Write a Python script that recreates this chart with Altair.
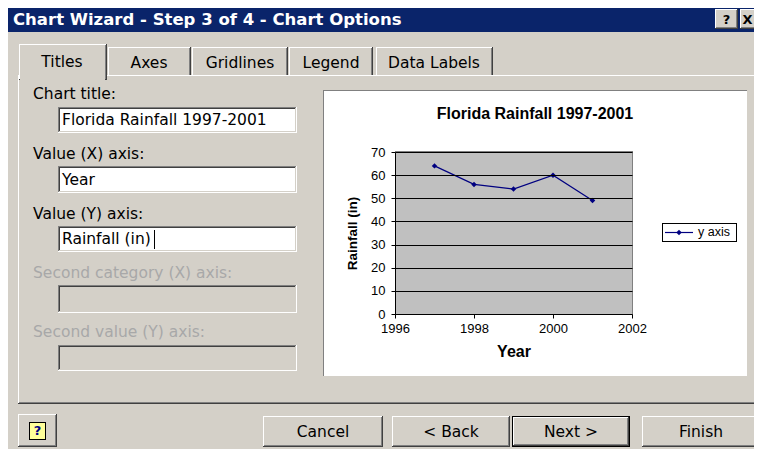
import altair as alt
import pandas as pd

# ---------------- chart data ----------------
years = [1997, 1998, 1999, 2000, 2001]
rainfall = [64, 56, 54, 60, 49]
series_name = "y axis"
chart_title = "Florida Rainfall 1997-2001"
x_title = "Year"
y_title = "Rainfall (in)"
x_ticks = [1996, 1998, 2000, 2002]
y_ticks = [0, 10, 20, 30, 40, 50, 60, 70]

# ---------------- dialog texts ----------------
window_title = "Chart Wizard - Step 3 of 4 - Chart Options"
tab_names = ["Titles", "Axes", "Gridlines", "Legend", "Data Labels"]
field_labels = ["Chart title:", "Value (X) axis:", "Value (Y) axis:",
                "Second category (X) axis:", "Second value (Y) axis:"]
field_values = [chart_title, x_title, y_title]
button_names = ["Cancel", "< Back", "Next >", "Finish"]

# ---------------- layout (image pixels) ----------------
OX, OY = 395, 152          # plot-area origin in the picture
PW, PH = 237, 162          # plot-area size
FACE, WHITE, DARK, SHADOW = "#D4D0C8", "#FFFFFF", "#404040", "#808080"
NAVY = "#000080"
UI_FONT = "DejaVu Sans"
CH_FONT = "Liberation Sans"


def raised(x1, y1, x2, y2, face=FACE):
    return [(x1, y1, x2, y2, DARK), (x1, y1, x2 - 1, y2 - 1, WHITE),
            (x1 + 1, y1 + 1, x2 - 1, y2 - 1, SHADOW),
            (x1 + 1, y1 + 1, x2 - 2, y2 - 2, face)]


def sunken(x1, y1, x2, y2, face=WHITE):
    return [(x1, y1, x2, y2, WHITE), (x1, y1, x2 - 1, y2 - 1, SHADOW),
            (x1 + 1, y1 + 1, x2 - 1, y2 - 1, FACE),
            (x1 + 1, y1 + 1, x2 - 2, y2 - 2, DARK),
            (x1 + 2, y1 + 2, x2 - 2, y2 - 2, face)]


tab_boxes = [(19, 107), (108, 191), (192, 288), (289, 373), (376, 493)]
field_boxes_y = [(107, 133), (166, 193), (226, 252), (285, 313), (345, 371)]
label_y = [94, 154, 214, 273, 332]
button_boxes = [(263, 383), (392, 510), (512, 630), (642, 760)]

rects = []
rects += [(8, 7, 762, 32, "#0A246A")]
rects += raised(715, 9, 738, 29) + raised(740, 9, 762, 29)
for i, (a, b) in enumerate(tab_boxes):
    if i > 0:
        rects += raised(a, 47, b, 80)
rects += raised(18, 75, 760, 404)
rects += raised(19, 44, 107, 80) + [(20, 74, 105, 80, FACE)]
for i, (a, b) in enumerate(field_boxes_y):
    rects += sunken(58, a, 297, b, WHITE if i < 3 else FACE)
rects += [(154, 230, 155, 249, "#000000")]
# chart panel
rects += [(323, 90, 747, 376, SHADOW), (324, 91, 747, 376, WHITE)]
# plot area
rects += [(395, 151, 633, 314, SHADOW), (395, 152, 632, 314, "#C0C0C0")]
# legend box
rects += [(662, 223, 737, 242, "#000000"), (663, 224, 736, 241, WHITE)]
# bottom buttons
rects += raised(18, 414, 57, 447)
rects += [(29, 422, 46, 440, "#000000"), (30, 423, 45, 439, "#FFFF99")]
for i, (a, b) in enumerate(button_boxes):
    if i == 2:
        rects += [(a, 416, b, 447, "#000000")] + raised(a + 1, 417, b - 1, 446)
    else:
        rects += raised(a, 416, b, 447)

rdf = pd.DataFrame(rects, columns=["x1", "y1", "x2", "y2", "fill"])
rdf[["x1", "x2"]] -= OX
rdf[["y1", "y2"]] -= OY

rect_layer = alt.Chart(rdf).mark_rect(strokeWidth=0).encode(
    x=alt.X("x1:Q", scale=None, axis=None), x2="x2:Q",
    y=alt.Y("y1:Q", scale=None, axis=None), y2="y2:Q",
    color=alt.Color("fill:N", scale=None),
)


def text_layer(rows, font, size, weight="normal", align="left"):
    df = pd.DataFrame(rows, columns=["x", "y", "text", "color"])
    df["x"] -= OX
    df["y"] -= OY
    return alt.Chart(df).mark_text(
        font=font, fontSize=size, fontWeight=weight, align=align, baseline="middle"
    ).encode(
        x=alt.X("x:Q", scale=None, axis=None),
        y=alt.Y("y:Q", scale=None, axis=None),
        text="text:N",
        color=alt.Color("color:N", scale=None),
    )


tab_centers = [62, 149, 240, 331, 434]
texts = [
    text_layer([(13, 20, window_title, WHITE)], UI_FONT, 16.5, "bold"),
    text_layer([(726.5, 19.5, "?", "#000000"), (747.5, 19.5, "X", "#000000")],
               UI_FONT, 13, "bold", "center"),
    text_layer([(c, 62 if i == 0 else 63, t, "#000000")
                for i, (c, t) in enumerate(zip(tab_centers, tab_names))],
               UI_FONT, 15.5, align="center"),
    text_layer([(33, y, t, "#000000" if i < 3 else "#A8A8A8")
                for i, (y, t) in enumerate(zip(label_y, field_labels))],
               UI_FONT, 15.5),
    text_layer([(62, (a + b) / 2, t, "#000000")
                for (a, b), t in zip(field_boxes_y, field_values)],
               UI_FONT, 15.5),
    text_layer([((a + b) / 2, 432, t, "#000000")
                for (a, b), t in zip(button_boxes, button_names)],
               UI_FONT, 15.5, align="center"),
    text_layer([(37.5, 431, "?", NAVY)], UI_FONT, 13, "bold", "center"),
    text_layer([(535, 114, chart_title, "#000000")], CH_FONT, 16, "bold", "center"),
    text_layer([(698, 232, series_name, "#000000")], CH_FONT, 12.5),
]

# ---------------- the data chart ----------------
data = pd.DataFrame({"year": years, "rain": rainfall, "series": series_name})
base = alt.Chart(data)

x_enc = alt.X(
    "year:Q",
    scale=alt.Scale(domain=[1996, 2002], nice=False, zero=False),
    axis=alt.Axis(
        values=x_ticks, format="d", title=x_title, grid=False, labelOverlap=False,
        domainColor="black", tickColor="black", tickSize=4, labelPadding=4,
        labelColor="black", labelFont=CH_FONT, labelFontSize=13, labelFlush=False,
        titleFont=CH_FONT, titleFontSize=16, titleFontWeight="bold", titleColor="black",
        titleX=PW / 2, titleY=37, titleBaseline="middle", titleAlign="center",
        zindex=1,
    ),
)
y_enc = alt.Y(
    "rain:Q",
    scale=alt.Scale(domain=[0, 70], nice=False),
    axis=alt.Axis(
        values=y_ticks, title=y_title, grid=True, gridColor="black", gridOpacity=1,
        labelOverlap=False,
        domainColor="black", tickColor="black", tickSize=4, labelPadding=6,
        labelColor="black", labelFont=CH_FONT, labelFontSize=13, labelFlush=False,
        titleFont=CH_FONT, titleFontSize=13.5, titleFontWeight="bold", titleColor="black",
        titleX=-43, titleY=PH / 2, titleAngle=270, titleBaseline="middle",
        titleAlign="center", zindex=1,
    ),
)

line = base.mark_line(color=NAVY, strokeWidth=1.2).encode(x=x_enc, y=y_enc)
points = base.mark_point(shape="diamond", filled=True, size=30, color=NAVY,
                         opacity=1).encode(x=x_enc, y=y_enc)

legend_line = alt.Chart(data.head(1)).mark_rule(color=NAVY, strokeWidth=1.2).encode(
    x=alt.value(665 - OX), x2=alt.value(693 - OX), y=alt.value(232.5 - OY))
legend_point = alt.Chart(data.head(1)).mark_point(
    shape="diamond", filled=True, size=30, color=NAVY, opacity=1
).encode(x=alt.value(679 - OX), y=alt.value(232.5 - OY))

chart = alt.layer(
    rect_layer, *texts, line, points, legend_line, legend_point
).properties(
    width=PW, height=PH,
    autosize=alt.AutoSizeParams(type="none"),
    padding={"left": OX - 8, "top": OY - 8, "right": 754 - (OX + PW), "bottom": 449 - (OY + PH)},
    background=FACE,
).configure_view(strokeWidth=0)

chart.save("out.html", embed_options={"renderer": "svg", "actions": False})
